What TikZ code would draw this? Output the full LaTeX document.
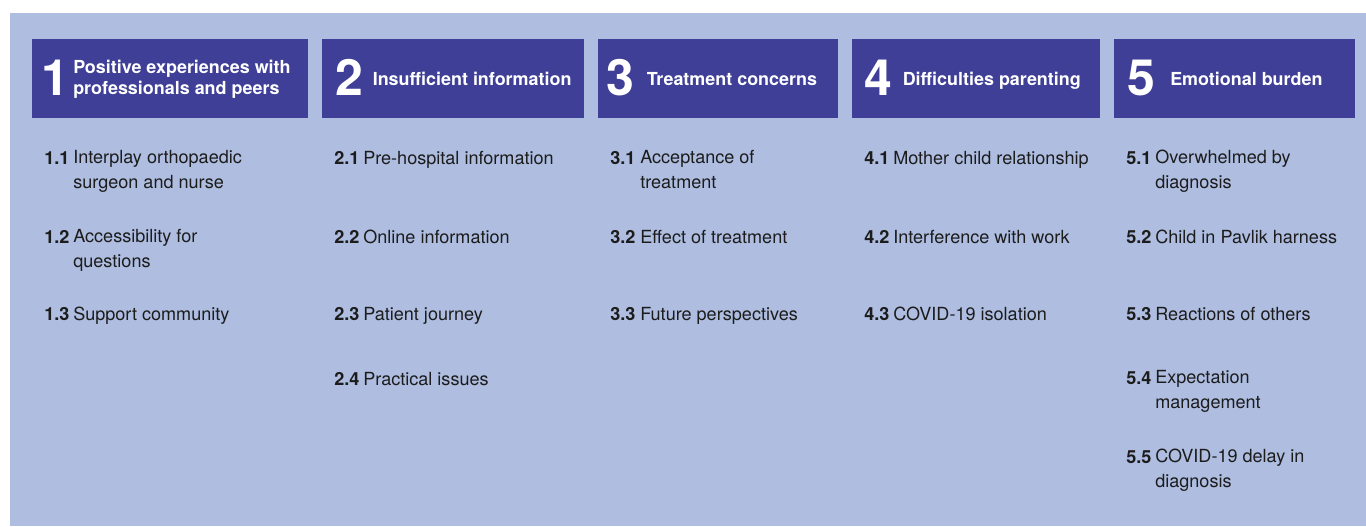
\documentclass[tikz,border=0pt]{standalone}
\usepackage{fontspec}
\setmainfont{TeX Gyre Heros}
\definecolor{panelblue}{HTML}{AEBDE0}
\definecolor{themeblue}{HTML}{3F3F98}
\definecolor{textgrey}{HTML}{1C1C1C}

\begin{document}
\begin{tikzpicture}[x=0.75pt,y=-0.75pt,
    themebox/.style={fill=themeblue,anchor=north west,inner sep=0pt,minimum height=78.5*0.75pt},
    bignum/.style={anchor=base,inner sep=0pt,text=white,font=\fontsize{37.5}{37.5}\selectfont\bfseries},
    themetitle/.style={anchor=base west,inner sep=0pt,text=white,align=left,font=\fontsize{13.45}{15.75}\selectfont\bfseries},
    subnum/.style={anchor=base west,inner sep=0pt,text=textgrey,font=\fontsize{13.55}{18.4}\selectfont\bfseries},
    subtext/.style={anchor=base west,inner sep=0pt,text=textgrey,align=left,font=\fontsize{13.55}{18.4}\selectfont}]
  \useasboundingbox (0,0) rectangle (1366,526);
  \fill[panelblue] (10,13) rectangle (1366,526);
  % theme headers
  \node[themebox,minimum width=276*0.75pt] (box1) at (32,39) {};
  \node[themebox,minimum width=262*0.75pt] (box2) at (322,39) {};
  \node[themebox,minimum width=240*0.75pt] (box3) at (598,39) {};
  \node[themebox,minimum width=248*0.75pt] (box4) at (852,39) {};
  \node[themebox,minimum width=241*0.75pt] (box5) at (1114,39) {};
  \node[bignum] (num1) at (55,95) {1};
  \node[bignum] (num2) at (349,95) {2};
  \node[bignum] (num3) at (620,95) {3};
  \node[bignum] (num4) at (878.5,95) {4};
  \node[bignum] (num5) at (1141.5,95) {5};
  \node[themetitle] (title1) at (73,94) {Positive experiences with\\professionals and peers};
  \node[themetitle] (title2) at (372.5,85) {Insufficient information};
  \node[themetitle] (title3) at (646.5,85) {Treatment concerns};
  \node[themetitle] (title4) at (902.5,85) {Difficulties parenting};
  \node[themetitle] (title5) at (1170,85) {Emotional burden};
  % subthemes 1
  \node[subnum] (n11) at (44,164) {1.1};
  \node[subtext] (t11) at (73,188.5) {Interplay orthopaedic\\surgeon and nurse};
  \node[subnum] (n12) at (44,243) {1.2};
  \node[subtext] (t12) at (73,267.5) {Accessibility for\\questions};
  \node[subnum] (n13) at (44,320) {1.3};
  \node[subtext] (t13) at (73,320) {Support community};
  % subthemes 2
  \node[subnum] (n21) at (334,164) {2.1};
  \node[subtext] (t21) at (363,164) {Pre-hospital information};
  \node[subnum] (n22) at (334,243) {2.2};
  \node[subtext] (t22) at (363,243) {Online information};
  \node[subnum] (n23) at (334,320) {2.3};
  \node[subtext] (t23) at (363,320) {Patient journey};
  \node[subnum] (n24) at (334,385) {2.4};
  \node[subtext] (t24) at (363,385) {Practical issues};
  % subthemes 3
  \node[subnum] (n31) at (610,164) {3.1};
  \node[subtext] (t31) at (640,188.5) {Acceptance of\\treatment};
  \node[subnum] (n32) at (610,243) {3.2};
  \node[subtext] (t32) at (640,243) {Effect of treatment};
  \node[subnum] (n33) at (610,320) {3.3};
  \node[subtext] (t33) at (640,320) {Future perspectives};
  % subthemes 4
  \node[subnum] (n41) at (864,164) {4.1};
  \node[subtext] (t41) at (893,164) {Mother child relationship};
  \node[subnum] (n42) at (864,243) {4.2};
  \node[subtext] (t42) at (893,243) {Interference with work};
  \node[subnum] (n43) at (864,320) {4.3};
  \node[subtext] (t43) at (893,320) {COVID-19 isolation};
  % subthemes 5
  \node[subnum] (n51) at (1126,164) {5.1};
  \node[subtext] (t51) at (1155,188.5) {Overwhelmed by\\diagnosis};
  \node[subnum] (n52) at (1126,243) {5.2};
  \node[subtext] (t52) at (1155,243) {Child in Pavlik harness};
  \node[subnum] (n53) at (1126,320) {5.3};
  \node[subtext] (t53) at (1155,320) {Reactions of others};
  \node[subnum] (n54) at (1126,384) {5.4};
  \node[subtext] (t54) at (1155,408.5) {Expectation\\management};
  \node[subnum] (n55) at (1126,463) {5.5};
  \node[subtext] (t55) at (1155,487.5) {COVID-19 delay in\\diagnosis};
\end{tikzpicture}
\end{document}
